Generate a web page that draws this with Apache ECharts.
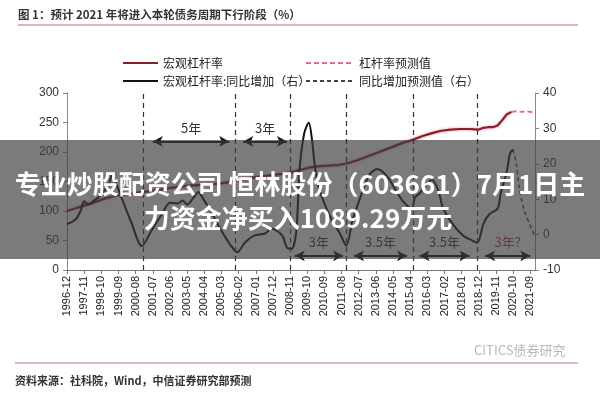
<!DOCTYPE html>
<html><head><meta charset="utf-8">
<script src="https://cdn.jsdelivr.net/npm/echarts@6/dist/echarts.min.js"></script>
<style>html,body{margin:0;padding:0;background:#fff}#c{width:600px;height:400px}</style>
</head><body><div id="c"></div>
<script>
// ---- categories: monthly, 1996-12 .. 2021-12
const months = [];
for (let y = 1996, m = 12; ; ) {
  months.push(y + '-' + (m < 10 ? '0' + m : '' + m));
  if (y === 2021 && m === 12) break;
  m++; if (m > 12) { m = 1; y++; }
}

// ---- 宏观杠杆率 (left axis, %)
const levActual = [
  ['1996-12',100],['1997-06',105],['1997-12',110],['1998-06',115],['1998-12',121],
  ['1999-06',125],['1999-12',128],['2000-06',130],['2000-12',132],['2001-06',134],
  ['2001-12',136],['2002-06',139],['2002-12',141],['2003-06',143],['2003-12',144],
  ['2004-06',145],['2004-12',146],['2005-06',148],['2005-12',151],['2006-06',154],
  ['2006-12',157],['2007-06',159],['2007-12',161],['2008-06',163],['2008-12',166],
  ['2009-06',170],['2009-12',174],['2010-06',176],['2010-12',177],['2011-06',178],
  ['2011-12',181],['2012-06',186],['2012-12',192],['2013-06',198],['2013-12',204],
  ['2014-06',210],['2014-12',216],['2015-06',221],['2015-12',227],['2016-06',232],
  ['2016-12',236],['2017-06',238],['2017-12',239],['2018-06',239],['2018-12',238],
  ['2019-03',241],['2019-06',242],['2019-09',242],['2019-12',245],['2020-03',254],
  ['2020-06',264],['2020-09',268]
];
// ---- 杠杆率预测值
const levForecast = [
  ['2020-09',268],['2020-12',269],['2021-03',268],['2021-06',269],['2021-09',268],['2021-11',268]
];
// ---- 宏观杠杆率:同比增加 (right axis)
const yoyActual = [
  ['1996-12',3],['1997-03',3.5],['1997-06',4.5],['1997-09',7],['1997-11',9.4],['1998-02',8.5],
  ['1998-05',9.5],['1998-08',10.5],['1998-12',12.4],['1999-03',14.5],['1999-05',17],['1999-07',15],
  ['1999-11',10.4],['2000-05',3.7],['2000-12',-3.2],['2001-06',1],['2002-01',5.9],['2002-06',9],
  ['2002-11',8.8],['2003-02',9.6],['2003-05',8.5],['2003-10',11],['2003-12',12],['2004-02',11],
  ['2004-09',5.9],['2005-03',1.1],['2005-10',-3.7],['2006-01',-5],['2006-06',-2.3],['2006-12',-0.3],
  ['2007-07',0.3],['2007-11',1.7],['2008-06',-0.3],['2008-09',-3.7],['2008-12',-4],['2009-03',1],
  ['2009-05',18],['2009-08',28.5],['2009-11',31.6],['2010-01',27],['2010-03',19],['2010-06',12.4],
  ['2011-01',4.8],['2011-07',0.3],['2011-11',-3.1],['2012-03',4],['2012-08',10.5],['2012-10',13],
  ['2013-02',17],['2013-07',18.5],['2014-01',16.5],['2014-07',12.4],['2014-11',9.6],['2015-05',7.3],
  ['2015-07',10.5],['2015-10',11.6],['2016-01',13.3],['2016-06',15.5],['2016-10',12.5],['2017-01',7.6],
  ['2017-07',3.1],['2018-02',-0.3],['2018-08',-1.7],['2018-11',-2.3],['2019-03',3.1],['2019-07',5.9],
  ['2019-12',7.3],['2020-02',11.6],['2020-06',18],['2020-08',23],['2020-10',24]
];
// ---- 同比增加预测值
const yoyForecast = [
  ['2020-10',24],['2020-12',20],['2021-02',13],['2021-05',7],['2021-08',3.5],['2021-11',0.5],['2021-12',-0.5]
];
// ---- cycle boundaries (dashed verticals)
const cycleLines = ['2001-01','2005-12','2008-11','2011-11','2015-06','2018-11'];
// ---- arrows: [from, to, y (left axis), label, colour]
const spans = [
  ['2001-07','2005-08',218,'5年','#333'],
  ['2006-05','2008-09',218,'3年','#333'],
  ['2009-02','2011-09',24,'3年','#333'],
  ['2012-04','2015-02',24,'3.5年','#333'],
  ['2015-10','2018-06',24,'3.5年','#333'],
  ['2019-04','2021-09',24,'3年?','#b8334f']
];
const leftAxis = {min:0, max:300, interval:50};
const rightAxis = {min:-10, max:40, interval:10};

const CJK = '"Noto Sans CJK SC", sans-serif';
const LAT = '"Liberation Sans", Arial, sans-serif';

const arrowData = spans.map(s => {
  const lab = {show:true, position:'insideMiddleTop', distance:7, formatter:s[3], color:s[4], fontSize:13, fontFamily:CJK};
  const ls = {color:'#111', width:2, type:'solid'};
  return [
    {coord:[s[0], s[2]], symbol:'arrow', symbolSize:[8,10], lineStyle:ls, label:lab},
    {coord:[s[1], s[2]], symbol:'arrow', symbolSize:[8,10], lineStyle:ls, label:lab}
  ];
});

const legendCommon = {orient:'vertical', itemHeight:10, itemGap:6,
  itemStyle:{opacity:0, borderWidth:0},
  textStyle:{fontSize:12, color:'#222', fontFamily:CJK}};

const chart = echarts.init(document.getElementById('c'), null, {renderer:'canvas'});
chart.setOption({
  backgroundColor:'#fff',
  animation:false,
  grid:{left:67, right:65, top:93, bottom:130},
  legend:[
    Object.assign({left:117, top:52, itemWidth:35, data:['宏观杠杆率','宏观杠杆率:同比增加（右）']}, legendCommon),
    Object.assign({left:300, top:52, itemWidth:48, data:['杠杆率预测值','同比增加预测值（右）']}, legendCommon)
  ],
  xAxis:{type:'category', data:months, boundaryGap:false,
    axisLine:{lineStyle:{color:'#777', width:1}},
    axisTick:{interval:10, length:4, lineStyle:{color:'#777'}},
    axisLabel:{interval:10, rotate:90, fontSize:11, color:'#222', fontFamily:LAT, margin:6},
    splitLine:{show:false}},
  yAxis:[
    {type:'value', min:leftAxis.min, max:leftAxis.max, interval:leftAxis.interval, position:'left',
     axisLine:{show:true, lineStyle:{color:'#888'}}, axisTick:{show:true, length:4, lineStyle:{color:'#888'}},
     axisLabel:{fontSize:12, color:'#333', fontFamily:LAT, margin:8}, splitLine:{show:false}},
    {type:'value', min:rightAxis.min, max:rightAxis.max, interval:rightAxis.interval, position:'right',
     axisLine:{show:true, lineStyle:{color:'#888'}}, axisTick:{show:true, length:4, lineStyle:{color:'#888'}},
     axisLabel:{fontSize:12, color:'#333', fontFamily:LAT, margin:8}, splitLine:{show:false}}
  ],
  series:[
    {name:'宏观杠杆率', type:'line', yAxisIndex:0, data:levActual, symbol:'none', z:3,
     lineStyle:{color:'#8b1c2c', width:2.2, shadowColor:'rgba(200,90,110,0.6)', shadowBlur:3},
     itemStyle:{color:'#8b1c2c'},
     markLine:{silent:true, symbol:'none', label:{show:false},
       lineStyle:{color:'#333', type:[5,4], width:1.2},
       data:cycleLines.map(c => ({xAxis:c}))}},
    {name:'杠杆率预测值', type:'line', yAxisIndex:0, data:levForecast, symbol:'none', z:3,
     lineStyle:{color:'#e0708a', width:2, type:[5,3]}, itemStyle:{color:'#e0708a'},
     markLine:{silent:true, data:arrowData}},
    {name:'宏观杠杆率:同比增加（右）', type:'line', yAxisIndex:1, data:yoyActual, symbol:'none', smooth:0.3, z:4,
     lineStyle:{color:'#111', width:2}, itemStyle:{color:'#111'}},
    {name:'同比增加预测值（右）', type:'line', yAxisIndex:1, data:yoyForecast, symbol:'none', smooth:0.3, z:4,
     lineStyle:{color:'#444', width:1.5, type:[4,3]}, itemStyle:{color:'#444'}}
  ],
  graphic:[
    {type:'text', left:18, top:9, z:50, style:{text:'图 1：预计 2021 年将进入本轮债务周期下行阶段（%）', font:'bold 11.5px ' + CJK, fill:'#333'}},
    {type:'line', z:50, shape:{x1:18, y1:25, x2:578, y2:25}, style:{stroke:'#c9a0a0', lineWidth:1.5}},
    {type:'line', z:50, shape:{x1:15, y1:363, x2:578, y2:363}, style:{stroke:'#d4a0a0', lineWidth:1.5}},
    {type:'text', left:15, top:375, z:50, style:{text:'资料来源：社科院，Wind，中信证券研究部预测', font:'bold 11px ' + CJK, fill:'#333'}},
    {type:'text', left:474, top:344, z:50, style:{text:'CITICS债券研究', font:'13px ' + CJK, fill:'#b8b8b8'}},
    {type:'rect', z:100, shape:{x:0, y:140, width:600, height:119}, style:{fill:'rgba(60,60,60,0.68)'}},
    {type:'text', z:101, x:300, y:184, style:{text:'专业炒股配资公司 恒林股份（603661）7月1日主', font:'bold 26px ' + CJK, fill:'#fff', textAlign:'center', textVerticalAlign:'middle'}},
    {type:'text', z:101, x:298, y:218, style:{text:'力资金净买入1089.29万元', font:'bold 26px ' + CJK, fill:'#fff', textAlign:'center', textVerticalAlign:'middle'}}
  ]
});
</script></body></html>
